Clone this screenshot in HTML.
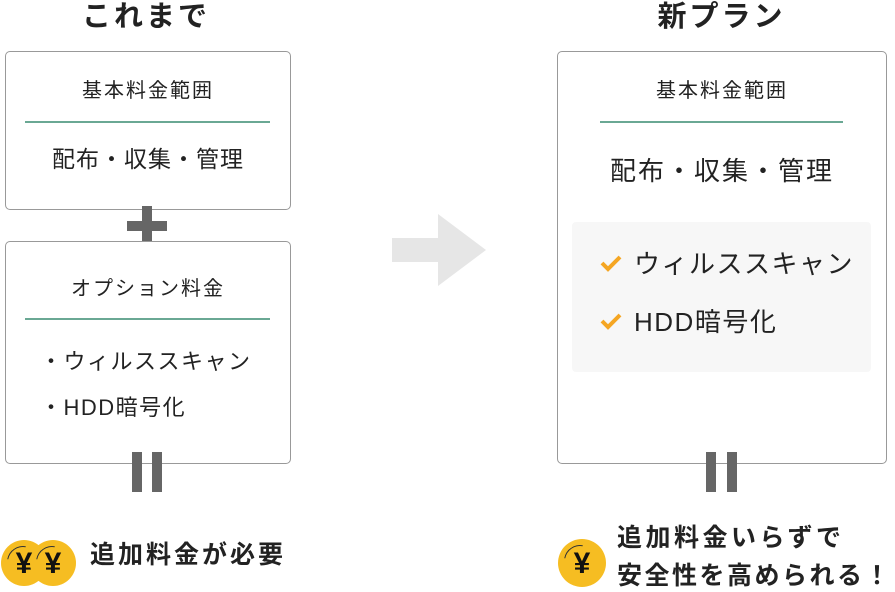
<!DOCTYPE html>
<html><head><meta charset="utf-8"><style>
body{margin:0;width:895px;height:592px;background:#fff;position:relative;overflow:hidden;font-family:"Liberation Sans","Noto Sans CJK JP",sans-serif;color:#222}
.a{position:absolute}
.box{position:absolute;border:1px solid #999;border-radius:5px;background:#fff}
.t{position:absolute;white-space:nowrap;line-height:1}
.ln{position:absolute;height:2px;background:#6aa894}
.bar{position:absolute;background:#666}
.coin{position:absolute;border-radius:50%;background:#f6bd22;font-weight:bold;color:#111;text-align:center;font-size:30px;font-family:"Liberation Sans",sans-serif}
.coin:before{content:"";position:absolute;left:6px;top:6px;width:30px;height:30px;border-radius:50%;border-top:1.5px solid #333;border-left:1.5px solid transparent;border-right:1.5px solid transparent;border-bottom:1.5px solid transparent;transform:rotate(-35deg)}
</style></head><body>
<div class="t" style="left:0;width:292px;top:3px;text-align:center;font-size:29px;font-weight:bold;letter-spacing:3px">これまで</div>
<div class="t" style="left:557px;width:329px;top:3px;text-align:center;font-size:29px;font-weight:bold;letter-spacing:3px">新プラン</div>

<div class="box" style="left:5px;top:51px;width:284px;height:157px"></div>
<div class="t" style="left:5px;width:286px;top:81px;text-align:center;font-size:20px;letter-spacing:2px">基本料金範囲</div>
<div class="ln" style="left:25px;top:121px;width:245px"></div>
<div class="t" style="left:5px;width:286px;top:148px;text-align:center;font-size:23px;letter-spacing:1px">配布・収集・管理</div>

<div class="bar" style="left:127px;top:221px;width:40px;height:10px"></div>
<div class="bar" style="left:142px;top:206px;width:10px;height:40px"></div>

<div class="box" style="left:5px;top:241px;width:284px;height:221px"></div>
<div class="t" style="left:5px;width:286px;top:279px;text-align:center;font-size:20px;letter-spacing:2px">オプション料金</div>
<div class="ln" style="left:25px;top:318px;width:245px"></div>
<div class="t" style="left:40px;top:351px;font-size:22px;letter-spacing:1.5px">・ウィルススキャン</div>
<div class="t" style="left:40px;top:397px;font-size:22px;letter-spacing:1.5px">・HDD暗号化</div>

<div class="bar" style="left:132px;top:452px;width:10px;height:40px"></div>
<div class="bar" style="left:152px;top:452px;width:10px;height:40px"></div>

<svg class="a" style="left:390px;top:212px" width="100" height="76"><polygon points="2,26 48,26 48,2 96,38 48,74 48,50 2,50" fill="#e6e6e6"/></svg>

<div class="box" style="left:557px;top:51px;width:328px;height:411px"></div>
<div class="t" style="left:557px;width:330px;top:81px;text-align:center;font-size:20px;letter-spacing:2px">基本料金範囲</div>
<div class="ln" style="left:600px;top:121px;width:243px"></div>
<div class="t" style="left:557px;width:330px;top:158px;text-align:center;font-size:26px;letter-spacing:2px">配布・収集・管理</div>
<div class="a" style="left:572px;top:222px;width:299px;height:150px;background:#f7f7f7;border-radius:4px"></div>
<svg class="a" style="left:599px;top:254px" width="24" height="20"><polyline points="3,9 9,15 21,3" fill="none" stroke="#f5a623" stroke-width="4"/></svg>
<svg class="a" style="left:599px;top:312px" width="24" height="20"><polyline points="3,9 9,15 21,3" fill="none" stroke="#f5a623" stroke-width="4"/></svg>
<div class="t" style="left:634px;top:251px;font-size:26px;letter-spacing:1.5px">ウィルススキャン</div>
<div class="t" style="left:634px;top:309px;font-size:26px;letter-spacing:1.5px">HDD暗号化</div>

<div class="bar" style="left:706px;top:452px;width:10px;height:40px"></div>
<div class="bar" style="left:727px;top:452px;width:10px;height:40px"></div>

<div class="coin" style="left:1px;top:540px;width:46px;height:46px;line-height:48px">¥</div>
<div class="coin" style="left:30px;top:540px;width:46px;height:46px;line-height:48px">¥</div>
<div class="t" style="left:90px;top:543px;font-size:25px;font-weight:bold;letter-spacing:3px">追加料金が必要</div>

<div class="coin" style="left:558px;top:539px;width:48px;height:48px;line-height:50px">¥</div>
<div class="t" style="left:617px;top:526px;font-size:25px;font-weight:bold;letter-spacing:3.5px">追加料金いらずで</div>
<div class="t" style="left:617px;top:564px;font-size:25px;font-weight:bold;letter-spacing:2.5px">安全性を高められる！</div>
</body></html>
